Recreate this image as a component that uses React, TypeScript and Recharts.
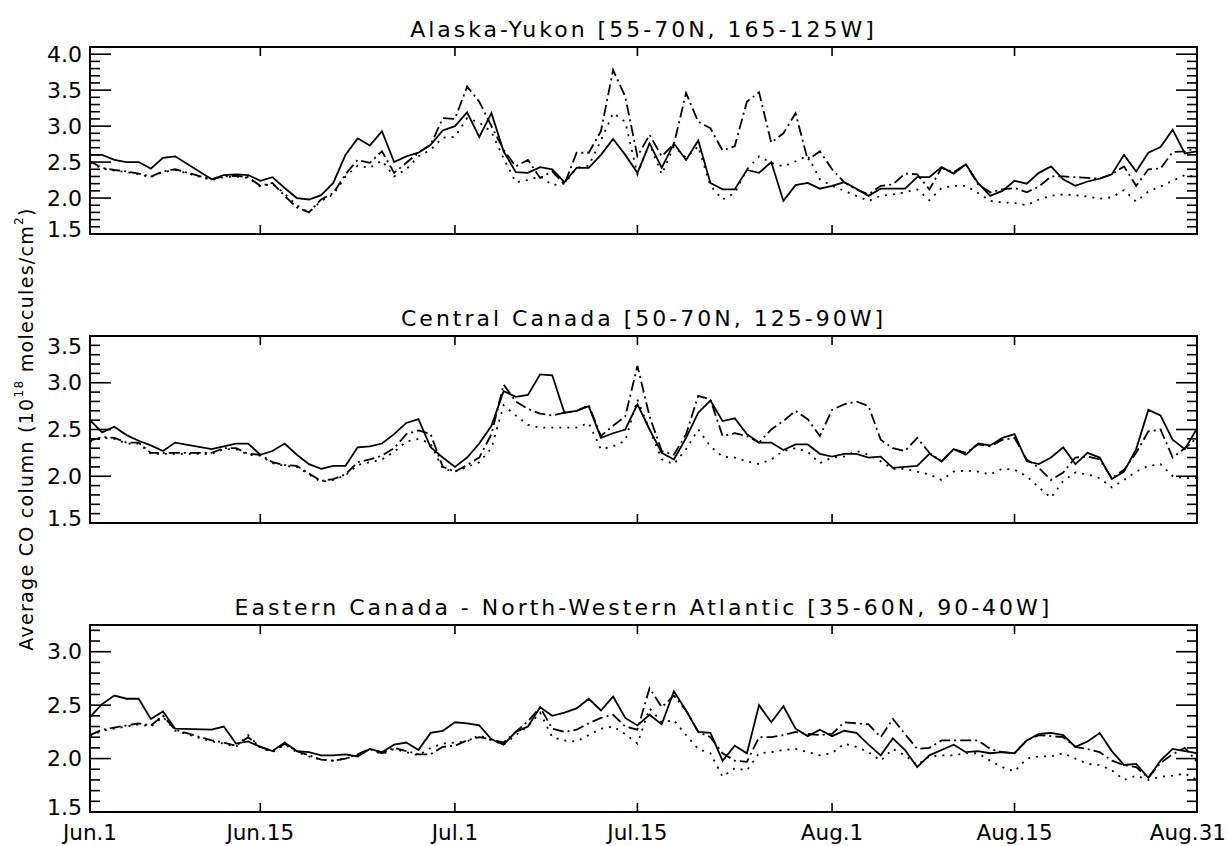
import React from "react";
import { LineChart, Line, XAxis, YAxis, ReferenceArea } from "recharts";

// Day offsets since Jun.1 (0 .. 91 = Aug.31). Days 8 and 9 have no data.
const DAYS = Array.from({ length: 92 }, (_, i) => i);

const X_TICKS = [0, 14, 30, 45, 61, 76, 91];
const X_TICK_LABELS = ["Jun.1", "Jun.15", "Jul.1", "Jul.15", "Aug.1", "Aug.15", "Aug.31"];

const N = null;

// --- Alaska-Yukon
const ALASKA_SOLID = [
  2.60, 2.60, 2.53, 2.50, 2.50, 2.41, 2.56, 2.58, N, N,
  2.26, 2.32, 2.33, 2.32, 2.24, 2.29, 2.14, 2.00, 1.98, 2.04,
  2.21, 2.60, 2.83, 2.73, 2.93, 2.50, 2.58, 2.63, 2.74, 2.94,
  3.00, 3.19, 2.85, 3.18, 2.65, 2.36, 2.35, 2.43, 2.40, 2.22,
  2.42, 2.42, 2.60, 2.82, 2.60, 2.35, 2.76, 2.42, 2.76, 2.53,
  2.80, 2.21, 2.12, 2.12, 2.39, 2.35, 2.50, 1.96, 2.18, 2.21,
  2.13, 2.17, 2.22, 2.13, 2.03, 2.13, 2.13, 2.13, 2.29, 2.29,
  2.43, 2.34, 2.47, 2.21, 2.03, 2.10, 2.24, 2.20, 2.35, 2.44,
  2.26, 2.17, 2.23, 2.27, 2.33, 2.60, 2.37, 2.63, 2.71, 2.95,
  2.62, 2.65,
];
const ALASKA_DASHDOT = [
  2.51, 2.42, 2.39, 2.37, 2.34, 2.30, 2.37, 2.40, N, N,
  2.26, 2.30, 2.31, 2.29, 2.17, 2.21, 2.03, 1.87, 1.80, 1.98,
  2.07, 2.33, 2.53, 2.49, 2.65, 2.35, 2.49, 2.63, 2.74, 3.11,
  3.10, 3.55, 3.34, 3.00, 2.67, 2.44, 2.53, 2.28, 2.37, 2.19,
  2.63, 2.63, 2.93, 3.78, 3.41, 2.58, 2.88, 2.58, 2.75, 3.46,
  3.06, 2.97, 2.66, 2.72, 3.34, 3.47, 2.77, 2.90, 3.18, 2.53,
  2.65, 2.40, 2.22, 2.12, 2.05, 2.17, 2.19, 2.34, 2.33, 2.12,
  2.42, 2.36, 2.47, 2.19, 2.08, 2.12, 2.14, 2.08, 2.16, 2.30,
  2.30, 2.29, 2.28, 2.27, 2.33, 2.44, 2.17, 2.40, 2.41, 2.64,
  2.65, 2.69,
];
const ALASKA_DOTTED = [
  2.49, 2.41, 2.38, 2.36, 2.33, 2.29, 2.36, 2.39, N, N,
  2.25, 2.29, 2.30, 2.28, 2.16, 2.20, 2.06, 1.90, 1.80, 1.96,
  2.05, 2.30, 2.45, 2.42, 2.52, 2.30, 2.40, 2.58, 2.67, 2.84,
  2.85, 3.11, 3.05, 2.92, 2.55, 2.22, 2.25, 2.30, 2.18, 2.20,
  2.42, 2.45, 2.80, 3.18, 3.06, 2.33, 2.76, 2.33, 2.72, 2.56,
  2.72, 2.17, 1.98, 2.07, 2.40, 2.58, 2.49, 2.44, 2.51, 2.59,
  2.26, 2.17, 2.10, 2.03, 1.96, 2.03, 2.05, 2.08, 2.12, 1.97,
  2.14, 2.17, 2.17, 2.07, 1.96, 1.94, 1.93, 1.90, 1.98, 2.03,
  2.05, 2.04, 2.02, 1.99, 2.01, 2.11, 1.95, 2.09, 2.16, 2.24,
  2.32, 2.29,
];

// --- Central Canada
const CANADA_SOLID = [
  2.60, 2.47, 2.53, 2.44, 2.38, 2.33, 2.27, 2.36, N, N,
  2.29, 2.32, 2.35, 2.35, 2.23, 2.27, 2.35, 2.23, 2.13, 2.08,
  2.11, 2.11, 2.31, 2.32, 2.35, 2.45, 2.57, 2.61, 2.31, 2.20,
  2.10, 2.20, 2.35, 2.54, 2.91, 2.85, 2.87, 3.09, 3.08, 2.68,
  2.70, 2.75, 2.41, 2.46, 2.50, 2.77, 2.50, 2.25, 2.18, 2.41,
  2.68, 2.81, 2.59, 2.62, 2.45, 2.36, 2.36, 2.28, 2.34, 2.34,
  2.24, 2.21, 2.24, 2.24, 2.20, 2.21, 2.09, 2.10, 2.11, 2.24,
  2.16, 2.29, 2.23, 2.35, 2.33, 2.41, 2.45, 2.16, 2.13, 2.20,
  2.31, 2.13, 2.25, 2.20, 1.97, 2.05, 2.29, 2.71, 2.65, 2.39,
  2.29, 2.51,
];
const CANADA_DASHDOT = [
  2.38, 2.42, 2.41, 2.36, 2.36, 2.25, 2.25, 2.25, N, N,
  2.25, 2.30, 2.30, 2.24, 2.23, 2.15, 2.12, 2.11, 2.03, 1.95,
  1.97, 2.02, 2.15, 2.18, 2.22, 2.30, 2.45, 2.49, 2.45, 2.10,
  2.05, 2.12, 2.20, 2.45, 2.98, 2.80, 2.72, 2.67, 2.65, 2.68,
  2.70, 2.76, 2.43, 2.54, 2.64, 3.18, 2.64, 2.27, 2.23, 2.45,
  2.86, 2.82, 2.43, 2.46, 2.43, 2.36, 2.50, 2.59, 2.70, 2.61,
  2.43, 2.71, 2.77, 2.80, 2.75, 2.39, 2.30, 2.27, 2.41, 2.25,
  2.16, 2.29, 2.25, 2.34, 2.32, 2.39, 2.41, 2.18, 2.09, 1.96,
  2.04, 2.20, 2.21, 2.18, 1.98, 2.07, 2.25, 2.48, 2.50, 2.20,
  2.30, 2.41,
];
const CANADA_DOTTED = [
  2.37, 2.41, 2.40, 2.35, 2.35, 2.24, 2.24, 2.24, N, N,
  2.24, 2.29, 2.29, 2.23, 2.22, 2.14, 2.11, 2.10, 2.02, 1.94,
  1.96, 2.01, 2.12, 2.15, 2.18, 2.26, 2.37, 2.40, 2.35, 2.08,
  2.05, 2.10, 2.15, 2.30, 2.76, 2.65, 2.55, 2.52, 2.52, 2.52,
  2.52, 2.57, 2.29, 2.32, 2.38, 2.82, 2.50, 2.18, 2.13, 2.29,
  2.50, 2.32, 2.21, 2.20, 2.16, 2.13, 2.18, 2.27, 2.30, 2.26,
  2.14, 2.20, 2.21, 2.27, 2.23, 2.16, 2.08, 2.08, 2.05, 2.02,
  1.96, 2.05, 2.06, 2.05, 2.02, 2.08, 2.07, 2.00, 1.88, 1.77,
  1.95, 2.04, 2.02, 1.98, 1.88, 1.96, 2.05, 2.11, 2.13, 2.00,
  1.98, 1.98,
];

// --- Eastern Canada - North-Western Atlantic
const ATLANTIC_SOLID = [
  2.39, 2.51, 2.59, 2.56, 2.56, 2.37, 2.44, 2.28, N, N,
  2.27, 2.30, 2.14, 2.16, 2.11, 2.07, 2.15, 2.07, 2.06, 2.03,
  2.03, 2.04, 2.02, 2.09, 2.06, 2.13, 2.15, 2.08, 2.24, 2.26,
  2.34, 2.33, 2.31, 2.18, 2.13, 2.25, 2.30, 2.48, 2.40, 2.43,
  2.47, 2.56, 2.45, 2.58, 2.38, 2.31, 2.41, 2.32, 2.63, 2.45,
  2.25, 2.24, 1.98, 2.12, 2.05, 2.50, 2.34, 2.49, 2.28, 2.21,
  2.27, 2.21, 2.26, 2.24, 2.13, 2.03, 2.19, 2.08, 1.92, 2.03,
  2.08, 2.13, 2.06, 2.07, 2.05, 2.06, 2.05, 2.17, 2.23, 2.24,
  2.22, 2.11, 2.16, 2.24, 2.07, 1.94, 1.95, 1.82, 1.98, 2.09,
  2.07, 2.05,
];
const ATLANTIC_DASHDOT = [
  2.22, 2.27, 2.29, 2.31, 2.33, 2.31, 2.40, 2.27, N, N,
  2.17, 2.15, 2.12, 2.20, 2.11, 2.07, 2.14, 2.07, 2.03, 1.99,
  1.98, 2.00, 2.04, 2.09, 2.05, 2.10, 2.07, 2.04, 2.04, 2.11,
  2.12, 2.17, 2.20, 2.18, 2.15, 2.25, 2.35, 2.48, 2.28, 2.25,
  2.27, 2.33, 2.38, 2.41, 2.30, 2.27, 2.66, 2.48, 2.59, 2.45,
  2.25, 2.20, 2.05, 1.98, 1.97, 2.20, 2.20, 2.22, 2.25, 2.23,
  2.22, 2.23, 2.34, 2.33, 2.32, 2.20, 2.37, 2.23, 2.09, 2.10,
  2.17, 2.17, 2.17, 2.17, 2.09, 2.06, 2.05, 2.17, 2.22, 2.21,
  2.20, 2.11, 2.09, 2.06, 1.98, 1.94, 1.92, 1.82, 1.96, 2.04,
  2.10, 1.97,
];
const ATLANTIC_DOTTED = [
  2.21, 2.26, 2.28, 2.30, 2.32, 2.30, 2.39, 2.26, N, N,
  2.16, 2.14, 2.11, 2.22, 2.10, 2.06, 2.13, 2.06, 2.02, 1.99,
  1.98, 2.00, 2.03, 2.09, 2.04, 2.09, 2.06, 2.03, 2.10, 2.14,
  2.15, 2.16, 2.22, 2.17, 2.13, 2.22, 2.30, 2.43, 2.20, 2.17,
  2.16, 2.22, 2.28, 2.30, 2.23, 2.14, 2.47, 2.34, 2.36, 2.22,
  2.09, 2.05, 1.83, 1.91, 1.89, 2.05, 2.06, 2.08, 2.09, 2.06,
  2.03, 2.05, 2.14, 2.11, 2.06, 1.98, 2.09, 2.03, 1.94, 2.02,
  2.03, 2.03, 2.05, 2.05, 1.98, 1.92, 1.88, 2.00, 2.02, 2.02,
  2.05, 2.00, 1.95, 1.94, 1.89, 1.80, 1.84, 1.80, 1.83, 1.84,
  1.86, 1.80,
];

const TITLES = [
  "Alaska-Yukon [55-70N, 165-125W]",
  "Central Canada [50-70N, 125-90W]",
  "Eastern Canada - North-Western Atlantic [35-60N, 90-40W]",
];
const Y_DOMAINS: [number, number][] = [[1.5, 4.1], [1.5, 3.5], [1.5, 3.25]];
// every 0.1; labels on the multiples of 0.5
const Y_TICKS = [
  [1.5, 1.6, 1.7, 1.8, 1.9, 2.0, 2.1, 2.2, 2.3, 2.4, 2.5, 2.6, 2.7, 2.8, 2.9, 3.0, 3.1, 3.2, 3.3, 3.4, 3.5, 3.6, 3.7, 3.8, 3.9, 4.0],
  [1.5, 1.6, 1.7, 1.8, 1.9, 2.0, 2.1, 2.2, 2.3, 2.4, 2.5, 2.6, 2.7, 2.8, 2.9, 3.0, 3.1, 3.2, 3.3, 3.4, 3.5],
  [1.5, 1.6, 1.7, 1.8, 1.9, 2.0, 2.1, 2.2, 2.3, 2.4, 2.5, 2.6, 2.7, 2.8, 2.9, 3.0, 3.1, 3.2],
];
const SERIES = [
  [ALASKA_SOLID, ALASKA_DASHDOT, ALASKA_DOTTED],
  [CANADA_SOLID, CANADA_DASHDOT, CANADA_DOTTED],
  [ATLANTIC_SOLID, ATLANTIC_DASHDOT, ATLANTIC_DOTTED],
];

const FONT = "'DejaVu Sans', sans-serif";
const W = 1228;
const H = 846;
const PLOT_LEFT = 90;
const PLOT_RIGHT = 1197;
const PLOT_H = 187;
const M_TOP = 12;
const X_AXIS_H = 34;
const PLOT_TOPS = [47, 336, 625];

function YTick(props: any) {
  const { y, payload, lo, hi } = props;
  const v = payload.value as number;
  const major = Math.abs(v * 2 - Math.round(v * 2)) < 1e-6;
  const atBottom = Math.abs(v - lo) < 1e-6;
  const atTop = Math.abs(v - hi) < 1e-6;
  const len = major ? 21 : 10;
  // end labels sit a little inside the frame, as in the original
  const shift = atBottom ? -5 : atTop ? 10 : 0;
  return (
    <g>
      {!atBottom && !atTop && (
        <>
          <line x1={PLOT_LEFT} x2={PLOT_LEFT + len} y1={y} y2={y} stroke="#000" strokeWidth={1.6} />
          <line x1={PLOT_RIGHT - len} x2={PLOT_RIGHT} y1={y} y2={y} stroke="#000" strokeWidth={1.6} />
        </>
      )}
      {major && (
        <text
          x={PLOT_LEFT - 8}
          y={y + shift}
          textAnchor="end"
          dominantBaseline="central"
          fontFamily={FONT}
          fontSize={22}
          fill="#000"
        >
          {v.toFixed(1)}
        </text>
      )}
    </g>
  );
}

function XTick(props: any) {
  const { x, y, payload, showLabel } = props;
  const idx = X_TICKS.indexOf(payload.value);
  const first = idx === 0;
  const last = idx === X_TICKS.length - 1;
  return (
    <g>
      {!first && !last && (
        <>
          <line x1={x} x2={x} y1={y} y2={y - 9} stroke="#000" strokeWidth={1.6} />
          <line x1={x} x2={x} y1={y - PLOT_H} y2={y - PLOT_H + 9} stroke="#000" strokeWidth={1.6} />
        </>
      )}
      {showLabel && (
        <text
          x={last ? W - 2 : x}
          y={y + 28}
          textAnchor={last ? "end" : "middle"}
          fontFamily={FONT}
          fontSize={21.5}
          fill="#000"
        >
          {X_TICK_LABELS[idx]}
        </text>
      )}
    </g>
  );
}

function Panel({ index }: { index: number }) {
  const [solid, dashdot, dotted] = SERIES[index];
  const data = DAYS.map((d, i) => ({ day: d, solid: solid[i], dashdot: dashdot[i], dotted: dotted[i] }));
  const [lo, hi] = Y_DOMAINS[index];
  const showLabel = index === 2;
  return (
    <div style={{ position: "absolute", left: 0, top: PLOT_TOPS[index] - M_TOP }}>
      <LineChart
        width={W}
        height={M_TOP + PLOT_H + X_AXIS_H}
        data={data}
        margin={{ top: M_TOP, right: W - PLOT_RIGHT, bottom: 0, left: PLOT_LEFT - 60 }}
      >
        <XAxis
          dataKey="day"
          type="number"
          domain={[0, 91]}
          ticks={X_TICKS}
          interval={0}
          allowDataOverflow
          axisLine={false}
          tickLine={false}
          tickSize={0}
          tickMargin={0}
          height={X_AXIS_H}
          tick={(p: any) => <XTick {...p} showLabel={showLabel} />}
        />
        <YAxis
          type="number"
          domain={[lo, hi]}
          ticks={Y_TICKS[index]}
          interval={0}
          allowDataOverflow
          axisLine={false}
          tickLine={false}
          tickSize={0}
          tickMargin={8}
          width={60}
          tick={(p: any) => <YTick {...p} lo={lo} hi={hi} />}
        />
        <ReferenceArea x1={0} x2={91} y1={lo} y2={hi} fill="none" stroke="#000" strokeWidth={2} />
        <Line
          dataKey="solid"
          type="linear"
          stroke="#000"
          strokeWidth={1.8}
          dot={false}
          connectNulls
          isAnimationActive={false}
        />
        <Line
          dataKey="dashdot"
          type="linear"
          stroke="#000"
          strokeWidth={1.8}
          strokeDasharray="11 4 2 4"
          dot={false}
          connectNulls
          isAnimationActive={false}
        />
        <Line
          dataKey="dotted"
          type="linear"
          stroke="#000"
          strokeWidth={1.8}
          strokeDasharray="2 6"
          dot={false}
          connectNulls
          isAnimationActive={false}
        />
      </LineChart>
    </div>
  );
}

export default function App() {
  const cx = (PLOT_LEFT + PLOT_RIGHT) / 2;
  return (
    <div style={{ position: "absolute", left: 0, top: 0, width: W, height: H, background: "#fff", overflow: "hidden" }}>
      {[0, 1, 2].map((i) => (
        <Panel key={i} index={i} />
      ))}
      <svg width={W} height={H} style={{ position: "absolute", left: 0, top: 0, pointerEvents: "none" }}>
        {TITLES.map((t, i) => (
          <text
            key={t}
            x={cx}
            y={PLOT_TOPS[i] - 10}
            textAnchor="middle"
            fontFamily={FONT}
            fontSize={22}
            letterSpacing={3}
            fill="#000"
          >
            {t}
          </text>
        ))}
        <text
          transform="translate(26,429) rotate(-90)"
          textAnchor="middle"
          dominantBaseline="central"
          fontFamily={FONT}
          fontSize={19}
          letterSpacing={1.3}
          fill="#000"
        >
          Average CO column (10
          <tspan dy={-7} fontSize={12}>18</tspan>
          <tspan dy={7}> molecules/cm</tspan>
          <tspan dy={-7} fontSize={12}>2</tspan>
          <tspan dy={7}>)</tspan>
        </text>
      </svg>
    </div>
  );
}
